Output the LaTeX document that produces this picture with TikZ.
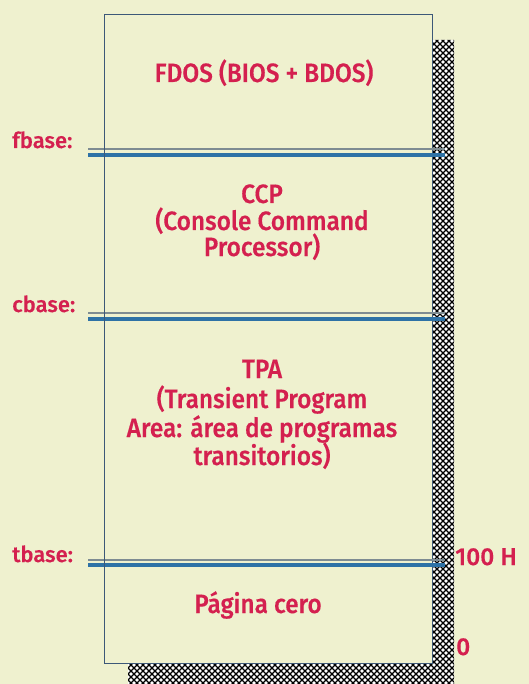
\documentclass[tikz,border=0pt]{standalone}
\usepackage{fontspec}
\setmainfont{Fira Sans}[UprightFont={* Medium}, FakeBold=0.4]
\newfontfamily\narrowfont{Fira Sans}[UprightFont={* Medium}, FakeBold=0.4, FakeStretch=0.92]
\begin{document}
\begin{tikzpicture}[x=1pt,y=-1pt,
  txt/.style={text=memred, font=\narrowfont\fontsize{26.5}{28}\selectfont, inner sep=0pt, anchor=base},
  lbl/.style={text=memred, font=\fontsize{22}{24}\selectfont, inner sep=0pt, anchor=base west},
  addr/.style={text=memred, font=\fontsize{24.5}{26}\selectfont, inner sep=0pt, anchor=base west},
  thinline/.style={draw=lineGray, line width=1.1pt},
  thickline/.style={draw=lineBlue, line width=3.6pt},
  boxline/.style={draw=boxBlue, line width=0.9pt}]
\definecolor{memred}{HTML}{D4204F}
\definecolor{bgcol}{HTML}{EFF1CF}
\definecolor{lineBlue}{HTML}{2E72A6}
\definecolor{lineGray}{HTML}{7E8C92}
\definecolor{boxBlue}{HTML}{3C5878}
\useasboundingbox (0,0) rectangle (529,684);
\fill[bgcol] (0,0) rectangle (529,684);
% shadow hatch
\begin{scope}
  \clip (432,40) rectangle (454,684) (128,663) rectangle (454,684);
  \fill[white] (120,30) rectangle (460,690);
  \foreach \c in {160,166,...,1160} \draw[black, line width=1.35pt] ({\c-720},720) -- (\c,0);
  \foreach \c in {-600,-594,...,470} \draw[black, line width=1.35pt] (\c,0) -- ({\c+720},720);
\end{scope}
% memory box
\node[boxline, fill=bgcol, minimum width=328pt, minimum height=649pt, inner sep=0pt, anchor=north west] (mem) at (104,14) {};
% dividers
\coordinate (f1) at (88,149); \coordinate (f2) at (445,149);
\coordinate (f3) at (88,155); \coordinate (f4) at (445,155);
\coordinate (c1) at (88,313); \coordinate (c2) at (445,313);
\coordinate (c3) at (88,319); \coordinate (c4) at (445,319);
\coordinate (t1) at (88,560); \coordinate (t2) at (445,560);
\coordinate (t3) at (88,565); \coordinate (t4) at (445,565);
\draw[thinline] (f1) -- (f2); \draw[thickline] (f3) -- (f4);
\draw[thinline] (c1) -- (c2); \draw[thickline] (c3) -- (c4);
\draw[thinline] (t1) -- (t2); \draw[thickline] (t3) -- (t4);
\draw[boxline] (mem.north west) -- (mem.south west);
% region texts
\node[txt] (fdos) at (264,82) {FDOS (BIOS + BDOS)};
\node[txt] (ccp1) at (262,203) {CCP};
\node[txt] (ccp2) at (262,230) {(Console Command};
\node[txt] (ccp3) at (262,256) {Processor)};
\node[txt] (tpa1) at (262,378) {TPA};
\node[txt] (tpa2) at (262,408) {(Transient Program};
\node[txt] (tpa3) at (262,437) {Area: área de programas};
\node[txt] (tpa4) at (262,465) {transitorios)};
\node[txt] (pag) at (258,613) {Página cero};
% labels
\node[lbl] (fb) at (12,148) {fbase:};
\node[lbl] (cb) at (12,312) {cbase:};
\node[lbl] (tb) at (12,562) {tbase:};
\node[addr] (h100) at (455,565) {100 H};
\node[addr] (zero) at (456,655) {0};
\end{tikzpicture}
\end{document}
